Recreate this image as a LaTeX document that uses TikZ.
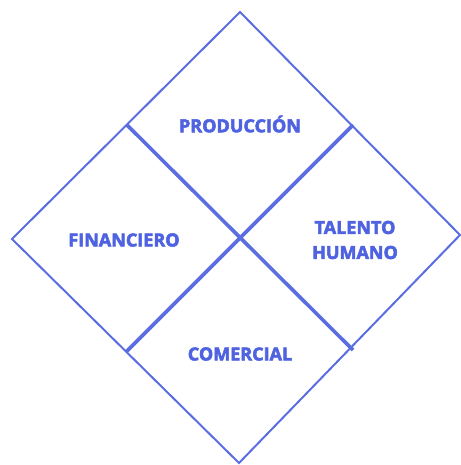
\documentclass[tikz,border=0pt]{standalone}
\usepackage{fontspec}
\setmainfont{Open Sans}
\newfontfamily\heavyfont{Open Sans}[BoldFeatures={FakeBold=3}]
\begin{document}
\begin{tikzpicture}[x=1pt,y=-1pt,
  edge/.style={draw=lineblue,line width=2pt,line join=miter},
  divider/.style={draw=lineblue,line width=3.6pt},
  label/.style={text=textblue,font=\heavyfont\bfseries\fontsize{18}{25}\selectfont,align=center,inner sep=0pt}]
\definecolor{lineblue}{HTML}{5B6EE1}
\definecolor{textblue}{HTML}{4F63E0}
\useasboundingbox (0,0) rectangle (460,465);
% outer diamond
\coordinate (top) at (240,12);
\coordinate (left) at (12,239);
\coordinate (bottom) at (239,463);
\coordinate (right) at (460,235);
\draw[edge] (top) -- (right) -- (bottom) -- (left) -- cycle;
% dividers between the four areas
\coordinate (tl) at (127,125);
\coordinate (br) at (353,350);
\coordinate (tr) at (353,125);
\coordinate (bl) at (126,352);
\draw[divider] (tl) -- (br);
\draw[divider] (tr) -- (bl);
% area labels
\node[label] (prod) at (240,124) {PRODUCCIÓN};
\node[label] (fin) at (124,240) {FINANCIERO};
\node[label] (tal) at (355,240) {TALENTO\\HUMANO};
\node[label] (com) at (240,354) {COMERCIAL};
\end{tikzpicture}
\end{document}
